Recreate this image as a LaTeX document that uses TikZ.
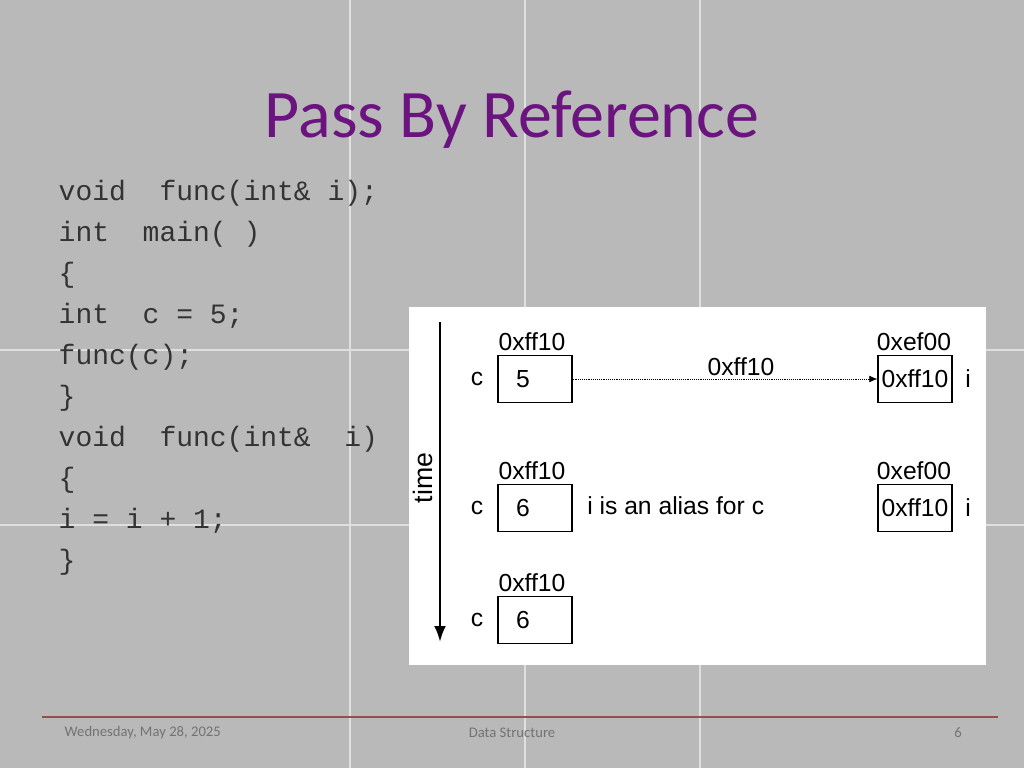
\documentclass[tikz,border=0pt]{standalone}
\usepackage{fontspec}
\setmainfont{Liberation Sans}
\newfontfamily\calfnt{Carlito}
\newfontfamily\cmono{Liberation Mono}
\usetikzlibrary{arrows.meta}
\definecolor{bg}{HTML}{B9B9B9}
\definecolor{ttl}{HTML}{6B1480}
\begin{document}
\begin{tikzpicture}[x=0.75pt,y=-0.75pt,
  code/.style={anchor=west,font=\cmono\fontsize{21}{21}\selectfont,text=black!80},
  vbox/.style={draw,line width=1pt,minimum width=55.5pt,minimum height=35pt,inner sep=0pt,font=\fontsize{18.5}{18.5}\selectfont},
  lab/.style={font=\fontsize{18.5}{18.5}\selectfont,inner sep=0pt},
  foot/.style={font=\calfnt\fontsize{11}{11}\selectfont,text=black!55}]
\fill[bg] (0,0) rectangle (1024,768);
\useasboundingbox (0,0) rectangle (1024,768);
\foreach \x in {350,525,700} \draw[white!55!bg,line width=1pt] (\x,0) -- (\x,768);
\foreach \y in {350,525} \draw[white!55!bg,line width=1pt] (0,\y) -- (1024,\y);
\node[font=\calfnt\fontsize{51}{51}\selectfont,text=ttl] (title) at (512,120) {Pass By Reference};
\foreach \t [count=\k from 0] in {{void\ \ func(int\& i);},{int\ \ main( )},{\{},{int\ \ c = 5;},{func(c);},{\}},{void\ \ func(int\&\ \ i)},{\{},{i = i + 1;},{\}}}
  \node[code] (l\k) at (54,193+41*\k) {\t};
\fill[white] (409,307) rectangle (986,665);
\coordinate (ta) at (440,322); \coordinate (tb) at (440,642);
\draw[line width=2pt,-{Latex[length=12pt,width=9pt]}] (ta) -- (tb);
\node[rotate=90,lab,font=\fontsize{20}{20}\selectfont] (time) at (423,478) {time};
\foreach \y/\v/\n in {379/5/a,508/6/b,620/6/c}{
  \node[vbox] (c\n) at (535,\y) {\hspace*{-18pt}\v};
  \node[lab] at (477,\y) {c};
  \node[lab] at (532,\y-37) {0xff10};
}
\foreach \y/\n in {379/a,508/b}{
  \node[vbox] (i\n) at (915,\y) {0xff10};
  \node[lab] at (968,\y) {i};
  \node[lab] at (914,\y-37) {0xef00};
}
\draw[densely dotted,-{Latex[length=6pt,width=5pt]}] (ca.east) -- (ia.west) node[midway,above=2pt,lab,xshift=12pt] {0xff10};
\node[lab,anchor=west] (alias) at (587,506) {i is an alias for c};
\draw[color=red!45!black!70,line width=2pt] (42,717) -- (998,717);
\node[foot,anchor=west] at (60,733) {Wednesday, May 28, 2025};
\node[foot] at (512,733) {Data Structure};
\node[foot] at (958,733) {6};
\end{tikzpicture}
\end{document}
